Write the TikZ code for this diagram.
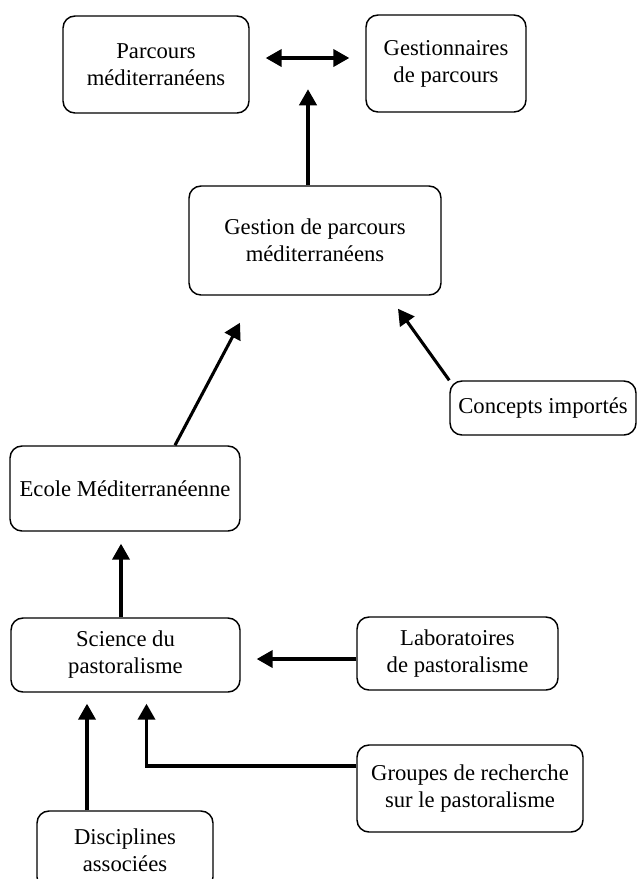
\documentclass[tikz,border=0pt]{standalone}
\usepackage{fontspec}
\setmainfont{Liberation Serif}
\usetikzlibrary{arrows.meta,calc}
\begin{document}
\begin{tikzpicture}[x=0.75pt,y=-0.75pt,
  >={Triangle[length=12pt,width=13pt]},
  box/.style={draw,line width=1.1pt,rounded corners=9pt,align=center,inner sep=0pt,
    font=\fontsize{17}{20.3}\selectfont},
  arr/.style={line width=2.3pt,->},
]
\useasboundingbox (0,0) rectangle (637,879);
\node[box,minimum width=139.5pt,minimum height=72.75pt] (parc) at (156,64.5) {Parcours\\méditerranéens};
\node[box,minimum width=120pt,minimum height=72.75pt] (gestr) at (446,63.5) {Gestionnaires\\de parcours};
\node[box,minimum width=189pt,minimum height=81.75pt] (gest) at (315,240.5) {Gestion de parcours\\méditerranéens};
\node[box,minimum width=139.5pt,minimum height=40.5pt] (conc) at (543,408) {Concepts importés};
\node[box,minimum width=172.5pt,minimum height=63.75pt] (ecole) at (125,488.5) {Ecole Méditerranéenne};
\node[box,minimum width=171.75pt,minimum height=55.5pt] (sci) at (125.5,655) {Science du\\pastoralisme};
\node[box,minimum width=150.75pt,minimum height=54.75pt] (lab) at (457.5,653.5) {Laboratoires\\de pastoralisme};
\node[box,minimum width=169.5pt,minimum height=65.25pt] (grp) at (470,788.5) {Groupes de recherche\\sur le pastoralisme};
\node[box,minimum width=132pt,minimum height=58.5pt] (disc) at (125,850) {Disciplines\\associées};

\draw[arr,<->] ($(parc.east)+(16,-6.5)$) -- ($(gestr.west)+(-16,-5.5)$);
\draw[arr] ($(gest.north)+(-7,0)$) -- ($(gest.north)+(-7,-96)$);
\draw[arr] (conc.north west) -- ($(gest.south)+(83,13)$);
\draw[arr] ($(ecole.north)+(50,0)$) -- ($(gest.south)+(-75,27)$);
\draw[arr] ($(sci.north)+(-4.5,0)$) -- ($(ecole.south)+(-4,12)$);
\draw[arr] ($(lab.west)+(0,5.5)$) -- ($(sci.east)+(16,4)$);
\draw[arr] ($(grp.west)+(0,-22.5)$) -| ($(sci.south)+(21,11)$);
\draw[arr] ($(disc.north)+(-38,0)$) -- ($(sci.south)+(-38.5,11)$);
\end{tikzpicture}
\end{document}
